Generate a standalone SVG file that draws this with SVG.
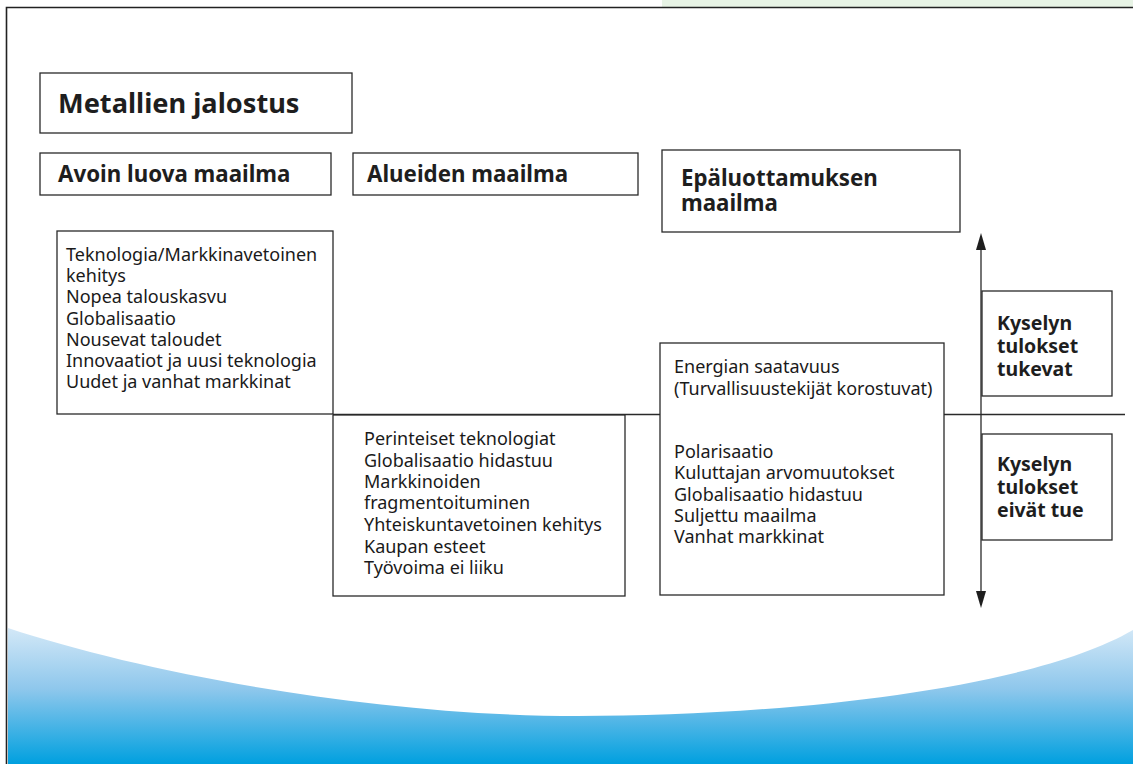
<svg xmlns="http://www.w3.org/2000/svg" width="1133" height="764" viewBox="0 0 1133 764">
<style>
.box{fill:#fff;stroke:#2a2a2a;stroke-width:1.3}
.t{font-family:"Noto Sans","Liberation Sans",sans-serif;font-size:18px;fill:#1a1a1a}
.b{font-family:"Noto Sans","Liberation Sans",sans-serif;font-weight:bold;fill:#1e1e1e}
.h1{font-size:27.2px}
.h2{font-size:22.3px}
.h3{font-size:19.5px}
.ln{stroke:#2a2a2a;stroke-width:1.3;fill:none}
</style>
<defs>
<linearGradient id="sea" x1="0" y1="628" x2="0" y2="764" gradientUnits="userSpaceOnUse">
<stop offset="0" stop-color="#d3e8f7"/>
<stop offset="0.45" stop-color="#8ec7ec"/>
<stop offset="1" stop-color="#00a0df"/>
</linearGradient>
<marker id="ah" viewBox="0 0 17 10" refX="12" refY="5" markerWidth="17" markerHeight="10" markerUnits="userSpaceOnUse" orient="auto-start-reverse">
<path d="M0,0 L17,5 L0,10 Z" fill="#1e1e1e"/>
</marker>
</defs>
<rect width="1133" height="764" fill="#fff"/>
<g id="background">
<rect x="662" y="0" width="471" height="7" fill="#e7f3e5"/>
<path d="M8,628 C150,675 380,716 578,716 C780,716 1030,690 1133,630 L1133,764 L8,764 Z" fill="url(#sea)"/>
<path d="M6.5,764 L6.5,7.5 L1133,7.5" fill="none" stroke="#222" stroke-width="1.6"/>
</g>
<g id="connectors">
<line class="ln" x1="333" y1="414.5" x2="1125" y2="414.5"/>
<line class="ln" x1="981" y1="238" x2="981" y2="603" marker-start="url(#ah)" marker-end="url(#ah)"/>
</g>
<g id="title">
<rect class="box" x="40" y="73" width="312" height="60"/>
<text class="b h1" x="58" y="113">Metallien jalostus</text>
</g>
<g id="avoin-header">
<rect class="box" x="40" y="153" width="291" height="42"/>
<text class="b h2" x="58" y="182">Avoin luova maailma</text>
</g>
<g id="alueiden-header">
<rect class="box" x="353" y="153" width="285" height="42"/>
<text class="b h2" x="367" y="182">Alueiden maailma</text>
</g>
<g id="epaluottamus-header">
<rect class="box" x="662" y="150" width="298" height="82"/>
<text class="b h2"><tspan x="681" y="186">Epäluottamuksen</tspan><tspan x="681" y="211">maailma</tspan></text>
</g>
<g id="avoin-content">
<rect class="box" x="57" y="231" width="276" height="183"/>
<text class="t"><tspan x="66" y="261">Teknologia/Markkinavetoinen</tspan><tspan x="66" y="282">kehitys</tspan><tspan x="66" y="303">Nopea talouskasvu</tspan><tspan x="66" y="324.5">Globalisaatio</tspan><tspan x="66" y="345.5">Nousevat taloudet</tspan><tspan x="66" y="367">Innovaatiot ja uusi teknologia</tspan><tspan x="66" y="388">Uudet ja vanhat markkinat</tspan></text>
</g>
<g id="alueiden-content">
<rect class="box" x="333" y="415" width="292" height="181"/>
<text class="t"><tspan x="364" y="445">Perinteiset teknologiat</tspan><tspan x="364" y="466.5">Globalisaatio hidastuu</tspan><tspan x="364" y="488">Markkinoiden</tspan><tspan x="364" y="509">fragmentoituminen</tspan><tspan x="364" y="531">Yhteiskuntavetoinen kehitys</tspan><tspan x="364" y="553">Kaupan esteet</tspan><tspan x="364" y="574">Työvoima ei liiku</tspan></text>
</g>
<g id="epaluottamus-content">
<rect class="box" x="660" y="343" width="284" height="252"/>
<text class="t"><tspan x="674" y="373">Energian saatavuus</tspan><tspan x="674" y="394.5">(Turvallisuustekijät korostuvat)</tspan></text>
<text class="t"><tspan x="674" y="458">Polarisaatio</tspan><tspan x="674" y="479">Kuluttajan arvomuutokset</tspan><tspan x="674" y="501">Globalisaatio hidastuu</tspan><tspan x="674" y="522">Suljettu maailma</tspan><tspan x="674" y="542.5">Vanhat markkinat</tspan></text>
</g>
<g id="tukevat">
<rect class="box" x="982" y="291" width="130" height="105"/>
<text class="b h3"><tspan x="997" y="330">Kyselyn</tspan><tspan x="997" y="353">tulokset</tspan><tspan x="997" y="376">tukevat</tspan></text>
</g>
<g id="eivat-tue">
<rect class="box" x="982" y="434" width="130" height="106"/>
<text class="b h3"><tspan x="997" y="471">Kyselyn</tspan><tspan x="997" y="494">tulokset</tspan><tspan x="997" y="517">eivät tue</tspan></text>
</g>
</svg>
